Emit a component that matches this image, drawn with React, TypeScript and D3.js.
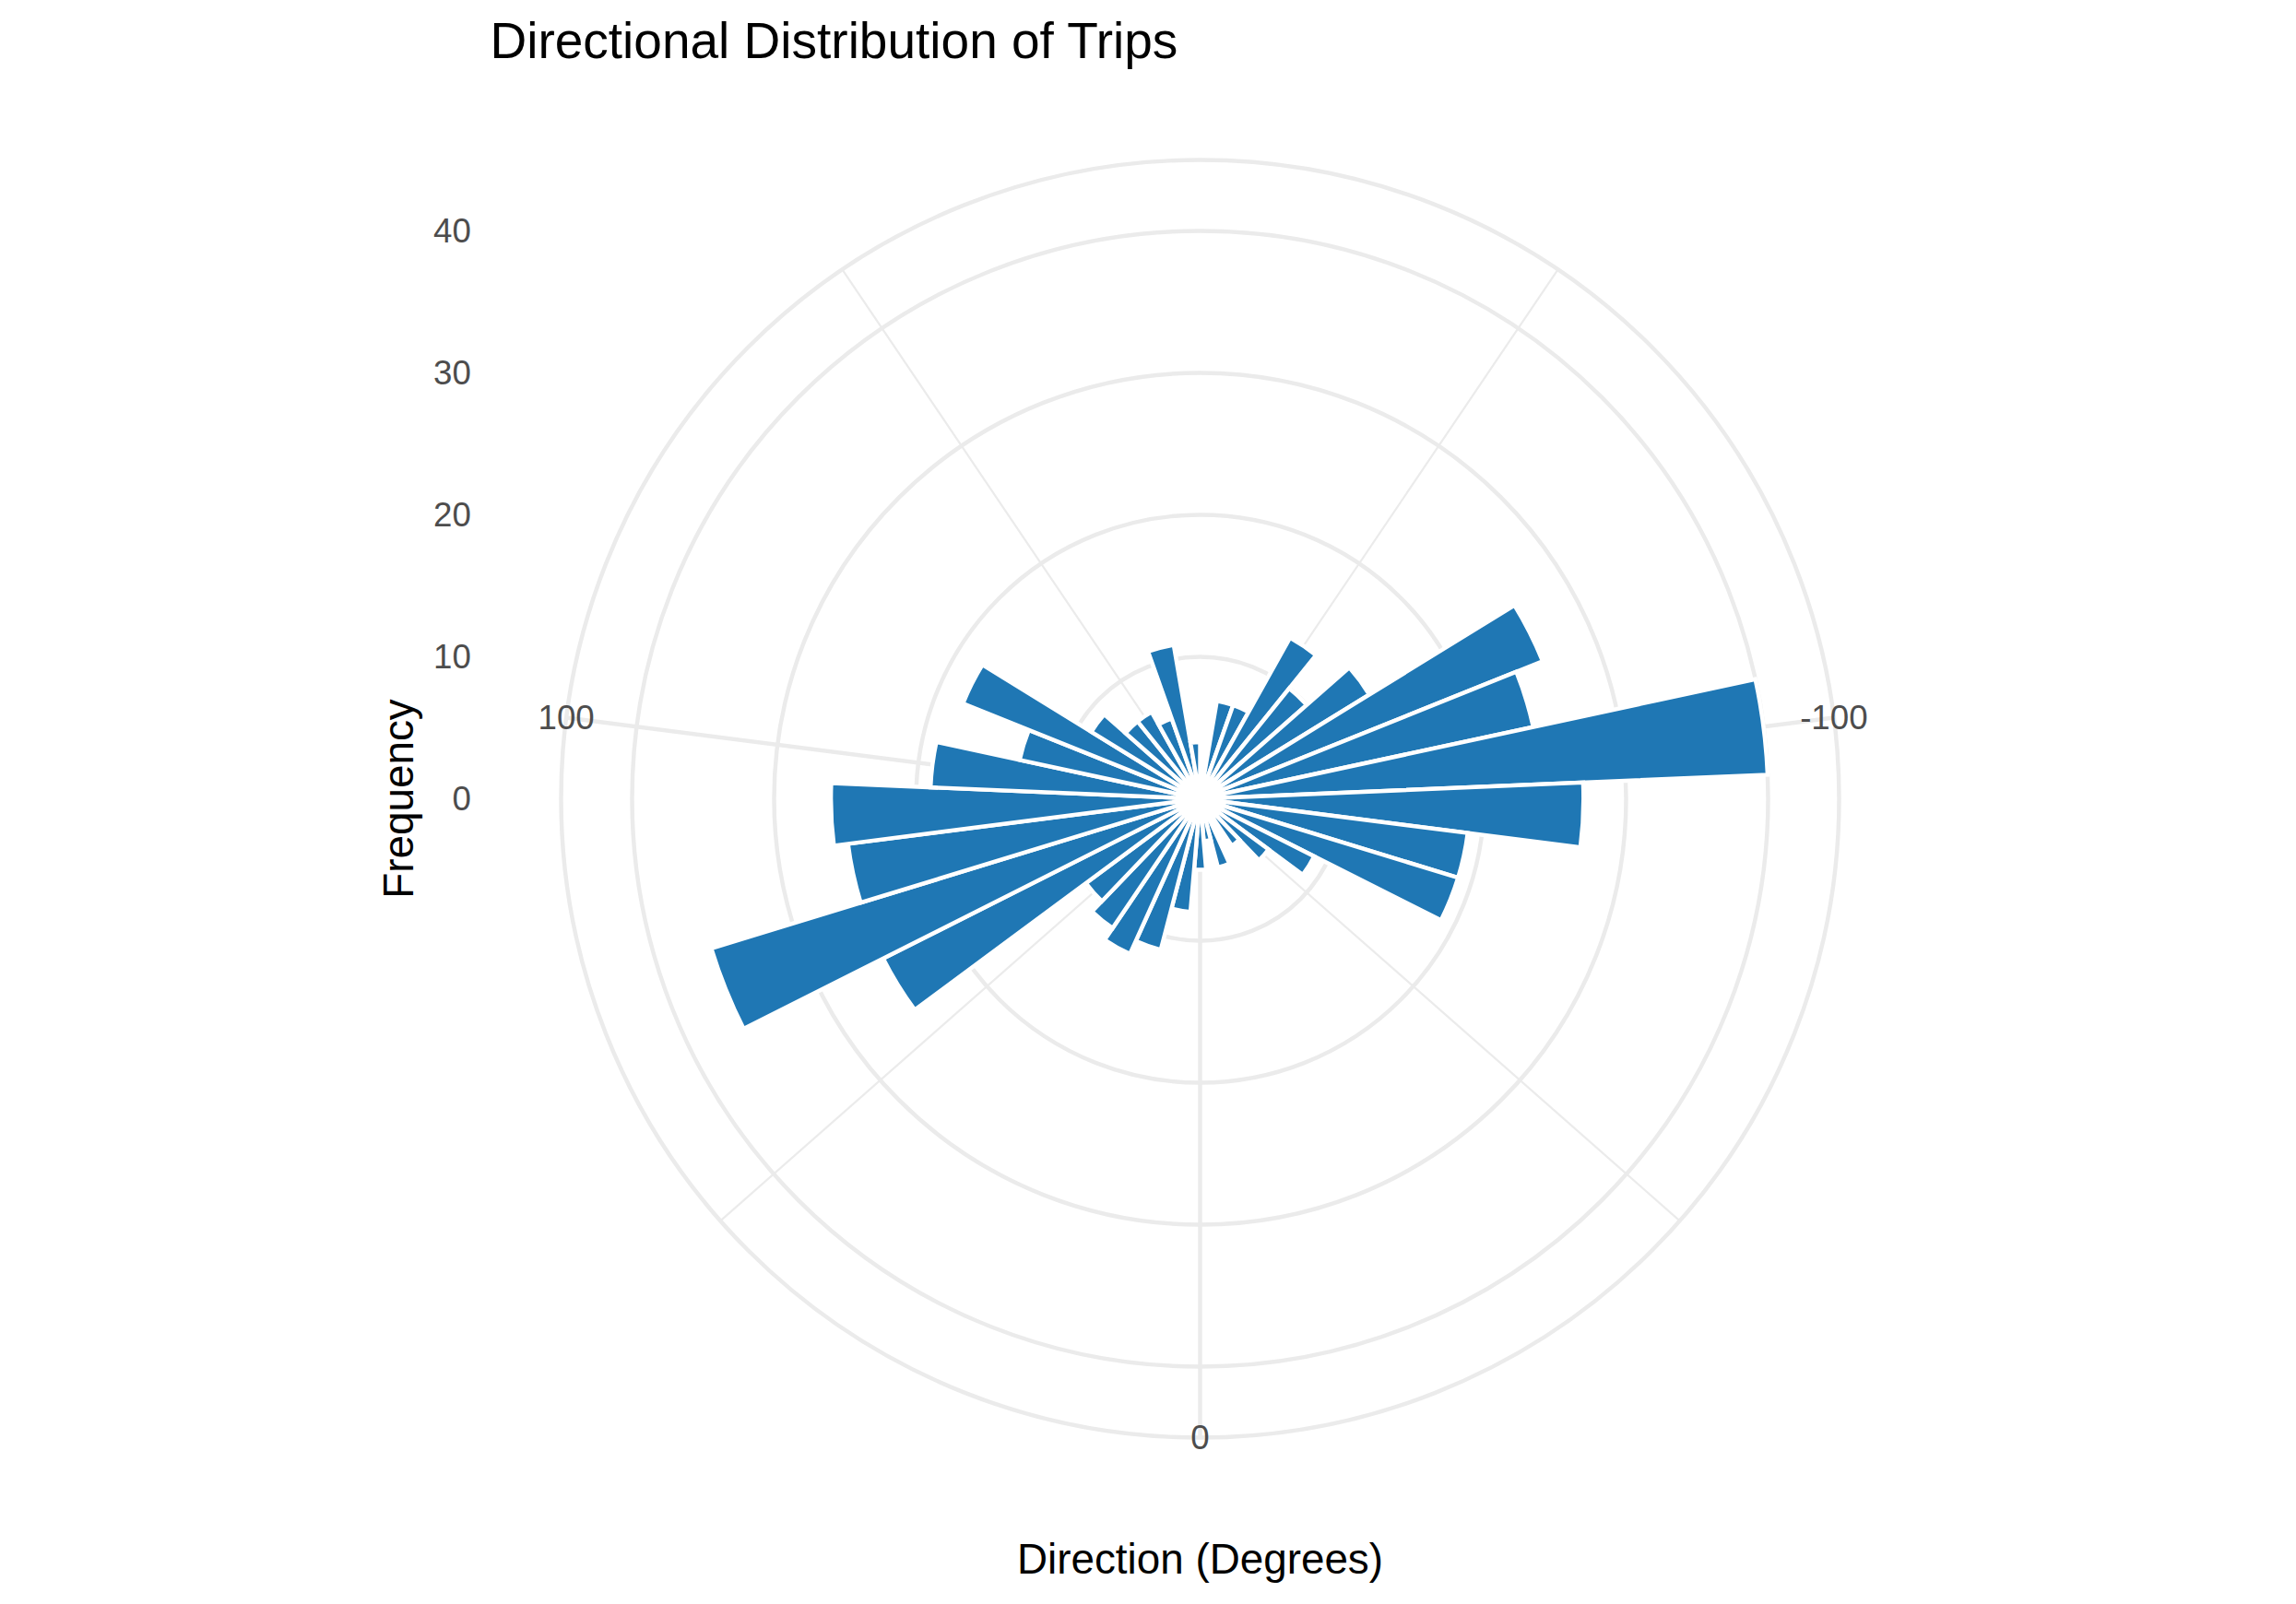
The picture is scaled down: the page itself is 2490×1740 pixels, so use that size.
import React from 'react';
import * as d3 from 'd3';

// histogram bins (centre of each 10 degree bin) and trip counts
const directionBins = [
  -180, -170, -160, -150, -140, -130, -120, -110, -100, -90, -80, -70, -60, -50, -40, -30, -20, -10,
  0, 10, 20, 30, 40, 50, 60, 70, 80, 90, 100, 110, 120, 130, 140, 150, 160, 170, 180,
];
const tripCounts = [
  0, 7, 7, 13, 10, 14, 26, 24, 40, 27, 19, 19, 9, 6, 4, 0, 5, 3,
  5, 8, 11, 12, 11, 10, 25, 36, 25, 26, 19, 13, 18, 9, 7, 7, 6, 11, 4,
];
const binWidth = 10;

const thetaBreaks = [-100, 0, 100];
const thetaMinorBreaks = [-150, -50, 50, 150];
const freqTicks = [0, 10, 20, 30, 40];

const W = 2490;
const H = 1740;
const cx = 1301.5;
const cy = 866.5;
const panel = 1540;
const font = '"Liberation Sans", Arial, Helvetica, sans-serif';

function App() {
  const theta = d3.scaleLinear().domain([-185, 185]).range([0, 2 * Math.PI]);
  const radius = d3.scaleLinear().domain([0, 40]).range([0, 0.4 * panel]);
  const outer = 0.45 * panel;
  const arc = d3.arc<any>();

  const px = (a: number, r: number) => cx + r * Math.sin(a);
  const py = (a: number, r: number) => cy - r * Math.cos(a);

  const panelLeft = cx - panel / 2;

  return (
    <svg width={W} height={H} style={{ position: 'absolute', left: 0, top: 0 }} fontFamily={font}>
      <rect width={W} height={H} fill="#fff" />

      {/* grid */}
      {thetaMinorBreaks.map(b => (
        <line key={'mn' + b} x1={cx} y1={cy} x2={px(theta(b), outer)} y2={py(theta(b), outer)}
          stroke="#EBEBEB" strokeWidth={2.2} />
      ))}
      {thetaBreaks.map(b => (
        <line key={'mj' + b} x1={cx} y1={cy} x2={px(theta(b), outer)} y2={py(theta(b), outer)}
          stroke="#EBEBEB" strokeWidth={4.45} />
      ))}
      {[...freqTicks.filter(t => t > 0).map(t => radius(t)), outer].map((r, i) => (
        <circle key={'c' + i} cx={cx} cy={cy} r={r} fill="none" stroke="#EBEBEB" strokeWidth={4.45} />
      ))}

      {/* bars */}
      <g transform={`translate(${cx},${cy})`}>
        {directionBins.map((b, i) =>
          tripCounts[i] > 0 ? (
            <path key={b}
              d={arc({
                innerRadius: 0,
                outerRadius: radius(tripCounts[i]),
                startAngle: theta(b - binWidth / 2),
                endAngle: theta(b + binWidth / 2),
              }) as string}
              fill="#1F77B4" stroke="#FFFFFF" strokeWidth={4.45} strokeLinejoin="miter" />
          ) : null
        )}
      </g>

      {/* theta labels */}
      {thetaBreaks.map(b => (
        <text key={'tl' + b} x={px(theta(b), outer)} y={py(theta(b), outer)} dy="0.35em"
          textAnchor="middle" fontSize={36.7} fill="#4D4D4D">{b}</text>
      ))}

      {/* frequency labels */}
      {freqTicks.map(t => (
        <text key={'fl' + t} x={panelLeft - 20.6} y={cy - radius(t)} dy="0.35em"
          textAnchor="end" fontSize={36.7} fill="#4D4D4D">{t}</text>
      ))}

      {/* titles */}
      <text x={panelLeft} y={63} fontSize={55} fill="#000">Directional Distribution of Trips</text>
      <text x={cx} y={1706.5} textAnchor="middle" fontSize={45.8} fill="#000">Direction (Degrees)</text>
      <text transform={`translate(448,${cy}) rotate(-90)`} textAnchor="middle" fontSize={45.8} fill="#000">Frequency</text>
    </svg>
  );
}

export default App;
